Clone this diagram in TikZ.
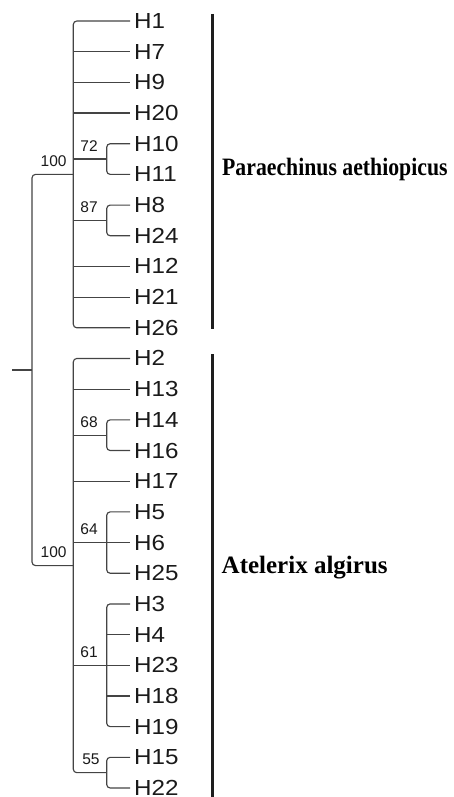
\documentclass[tikz,border=0pt]{standalone}
\usepackage{fontspec}
\usepackage{graphicx}
\setmainfont{Liberation Serif}
\newfontfamily\sansf{Liberation Sans}
\definecolor{treegray}{HTML}{444444}
\definecolor{leafcol}{HTML}{1A1A1A}
\definecolor{barcol}{HTML}{1E1E1E}
\newcommand\leaffont{\sansf\fontsize{21.8}{21.8}\selectfont}
\newcommand\bootfont{\sansf\fontsize{15.5}{15.5}\selectfont}
\newcommand\cladefont{\fontsize{25}{25}\selectfont\bfseries}
\begin{document}
\begin{tikzpicture}[x=1pt,y=-1pt,
  tree/.style={draw=treegray, line width=1.15pt, rounded corners=3.5pt},
  leaf/.style={anchor=base west, inner sep=0pt, font=\leaffont, text=leafcol},
  boot/.style={anchor=base east, inner sep=0pt, font=\bootfont, text=leafcol},
  groupboot/.style={boot, xshift=-6.6pt, yshift=8pt},
  subboot/.style={boot, xshift=-8.8pt, yshift=7.7pt},
  bar/.style={line width=3.3pt, draw=barcol},
  clade/.style={anchor=base west, inner sep=0pt, font=\cladefont, text=black}]
\useasboundingbox (0,0) rectangle (453,797);
% leaves
\foreach \n/\i in {H1/0,H7/1,H9/2,H20/3,H10/4,H11/5,H8/6,H24/7,H12/8,H21/9,H26/10,
  H2/11,H13/12,H14/13,H16/14,H17/15,H5/16,H6/17,H25/18,H3/19,H4/20,H23/21,H18/22,H19/23,H15/24,H22/25}{
  \coordinate (e\n) at (130,{21+30.68*\i});
  \node[leaf] (\n) at (134,{21+30.68*\i+7.5}) {\scalebox{1.11}[1]{\n}};
}
% internal nodes
\coordinate (c72) at (106.7,159.06);
\coordinate (c87) at (106.7,220.42);
\coordinate (g1) at (73.3,174.4);
\coordinate (c68) at (106.7,435.18);
\coordinate (c64) at (106.7,542.56);
\coordinate (c61) at (106.7,665.28);
\coordinate (c55) at (106.7,772.66);
\coordinate (g2) at (73.3,565.57);
\coordinate (root) at (32,370);
\coordinate (stub) at (12,370);
% group 1
\draw[tree] (eH1) -| (g1) |- (eH26);
\foreach \n in {H7,H9,H20,H12,H21}{\draw[tree] (g1 |- e\n) -- (e\n);}
\draw[tree] (eH10) -| (c72) |- (eH11);
\draw[tree] (g1 |- c72) -- (c72);
\draw[tree] (eH8) -| (c87) |- (eH24);
\draw[tree] (g1 |- c87) -- (c87);
% group 2
\draw[tree] (eH2) -| (g2) |- (c55);
\foreach \n in {H13,H17}{\draw[tree] (g2 |- e\n) -- (e\n);}
\draw[tree] (eH14) -| (c68) |- (eH16);
\draw[tree] (g2 |- c68) -- (c68);
\draw[tree] (eH5) -| (c64) |- (eH25);
\draw[tree] (g2 |- eH6) -- (eH6);
\draw[tree] (eH3) -| (c61) |- (eH19);
\draw[tree] (g2 |- eH23) -- (eH23);
\foreach \n in {H4,H18}{\draw[tree] (c61 |- e\n) -- (e\n);}
\draw[tree] (eH15) -| (c55) |- (eH22);
% root
\draw[tree] (g1) -| (root) |- (g2);
\draw[tree] (stub) -- (root);
% bootstrap values
\node[groupboot] (b100a) at (g1) {100};
\node[groupboot] (b100b) at (g2) {100};
\node[subboot] (b72) at (c72) {72};
\node[subboot] (b87) at (c87) {87};
\node[subboot] (b68) at (c68) {68};
\node[subboot] (b64) at (c64) {64};
\node[subboot] (b61) at (c61) {61};
\node[subboot, xshift=1.8pt] (b55) at (c55) {55};
% clade bars and labels
\coordinate (bar1t) at (212.3,14);
\coordinate (bar1b) at (212.3,329.3);
\coordinate (bar2t) at (212.3,354);
\coordinate (bar2b) at (212.3,797);
\draw[bar] (bar1t) -- (bar1b);
\draw[bar] (bar2t) -- (bar2b);
\node[clade] (pa) at (222,175) {\scalebox{0.87}[1]{Paraechinus aethiopicus}};
\node[clade] (aa) at (221.5,573) {Atelerix algirus};
\end{tikzpicture}
\end{document}
